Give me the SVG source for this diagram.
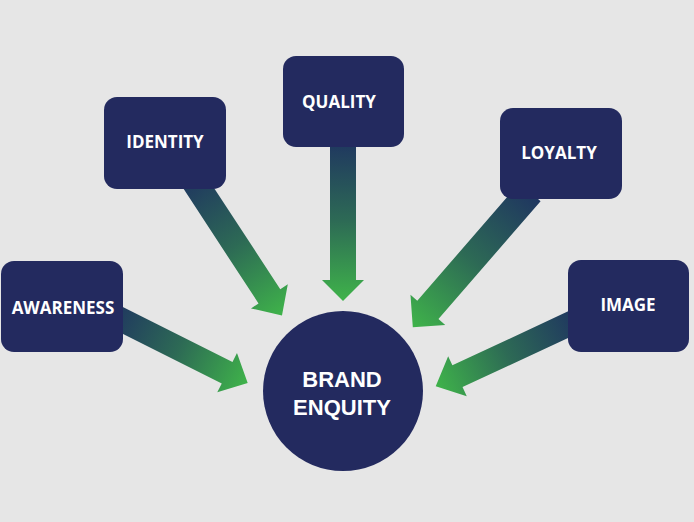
<svg xmlns="http://www.w3.org/2000/svg" width="694" height="522" viewBox="0 0 694 522">
<defs>
<linearGradient id="g" x1="0" y1="0" x2="1" y2="0">
<stop offset="0" stop-color="#1f3660"/>
<stop offset="0.5" stop-color="#2d6a55"/>
<stop offset="1" stop-color="#3fb34a"/>
</linearGradient>
<style>
.box{fill:#232a5f}
.lbl{font-family:"Open Sans","Liberation Sans",sans-serif;font-weight:700;font-size:17px;fill:#ffffff;text-anchor:middle}
.big{font-family:"Liberation Sans","Open Sans",sans-serif;font-size:22px}
.arr{fill:url(#g)}
</style>
</defs>
<rect width="694" height="522" fill="#e6e6e6"/>
<g id="connectors">
<polygon class="arr" transform="translate(110,314) rotate(26.6)" points="0,-12 131,-12 131,-22 154,0 131,22 131,12 0,12"/>
<polygon class="arr" transform="translate(190,175) rotate(56.8)" points="0,-13 145,-13 145,-22 168,0 145,22 145,13 0,13"/>
<polygon class="arr" transform="translate(343,140) rotate(90)" points="0,-13 140,-13 140,-21 161,0 140,21 140,13 0,13"/>
<polygon class="arr" transform="translate(530,192) rotate(130.9)" points="0,-14 156,-14 156,-23 179,0 156,23 156,14 0,14"/>
<polygon class="arr" transform="translate(578,320) rotate(155)" points="0,-12 133,-12 133,-22 157,0 133,22 133,12 0,12"/>
</g>
<g id="awareness"><rect class="box" x="1" y="261" width="122" height="91" rx="13"/><text class="lbl" x="63" y="314">AWARENESS</text></g>
<g id="identity"><rect class="box" x="104" y="97" width="122" height="92" rx="13"/><text class="lbl" x="165" y="148">IDENTITY</text></g>
<g id="quality"><rect class="box" x="283" y="56" width="121" height="91" rx="13"/><text class="lbl" x="339" y="108">QUALITY</text></g>
<g id="loyalty"><rect class="box" x="500" y="108" width="122" height="91" rx="13"/><text class="lbl" x="559" y="159">LOYALTY</text></g>
<g id="image"><rect class="box" x="568" y="260" width="121" height="92" rx="13"/><text class="lbl" x="628" y="311">IMAGE</text></g>
<g id="brand-equity"><circle class="box" cx="343" cy="391" r="80"/><text class="lbl big" x="342" y="387">BRAND</text><text class="lbl big" x="342" y="415">ENQUITY</text></g>
</svg>
